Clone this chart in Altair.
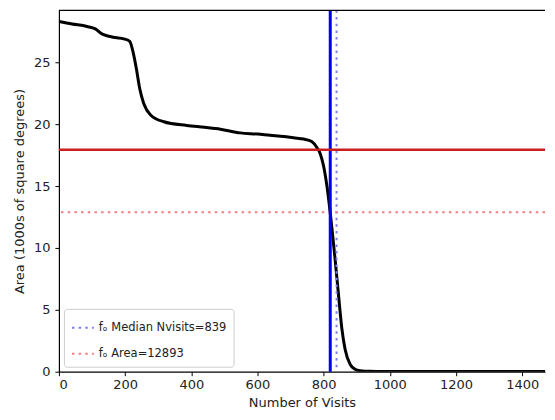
import altair as alt
import pandas as pd

# Curve: Area (1000s of sq deg) vs Number of Visits
visits = [0, 40, 85, 110, 130, 145, 170, 196, 214, 224, 234, 244, 256, 277, 317, 386, 440,
          488, 548, 600, 638, 680, 709, 740, 764, 780, 790, 800, 810, 825, 835, 845, 855,
          865, 880, 895, 910, 940, 1000, 1200, 1500]
area = [28.3, 28.1, 27.9, 27.7, 27.3, 27.15, 27.0, 26.9, 26.7, 25.85, 24.5, 22.9, 21.7,
        20.75, 20.2, 19.9, 19.75, 19.6, 19.3, 19.2, 19.1, 19.0, 18.9, 18.8, 18.6, 18.1,
        17.6, 16.6, 15.0, 11.6, 9.0, 6.2, 3.5, 1.8, 0.6, 0.2, 0.08, 0.03, 0.02, 0.02, 0.02]

median_nvisits = 839
area_fo = 12.893
nvisits_solid = 820
area_solid = 17.93

labels = ["fₒ Median Nvisits=839", "fₒ Area=12893"]
legend_colors = ["#7f7ff0", "#f08080"]

curve_df = pd.DataFrame({"visits": visits, "area": area})

W, H = 487, 362
xscale = alt.Scale(domain=[0, 1469], nice=False, zero=False)
yscale = alt.Scale(domain=[0, 29.2], nice=False)

xaxis = alt.Axis(values=[0, 200, 400, 600, 800, 1000, 1200, 1400], title="Number of Visits",
                 format="d", grid=False, tickSize=4, labelPadding=3, titlePadding=5)
yaxis = alt.Axis(values=[0, 5, 10, 15, 20, 25], title="Area (1000s of square degrees)",
                 format="d", grid=False, tickSize=4, labelPadding=5, titlePadding=7)

curve = alt.Chart(curve_df).mark_line(color="black", strokeWidth=3, interpolate="monotone",
                                      clip=True).encode(
    x=alt.X("visits:Q", scale=xscale, axis=xaxis),
    y=alt.Y("area:Q", scale=yscale, axis=yaxis),
)

# top frame edge (the right edge is cut off in the reference)
top_frame = alt.Chart(pd.DataFrame({"d": [0]})).mark_rule(
    color="black", strokeWidth=1.2).encode(
    x=alt.value(0), x2=alt.value(W), y=alt.value(0))

vsolid = alt.Chart(pd.DataFrame({"x": [nvisits_solid]})).mark_rule(
    color="#0000ee", strokeWidth=3).encode(x=alt.X("x:Q", scale=xscale))
hsolid = alt.Chart(pd.DataFrame({"y": [area_solid]})).mark_rule(
    color="#c81e1e", strokeWidth=2.5).encode(y=alt.Y("y:Q", scale=yscale))

color_scale = alt.Scale(domain=labels, range=legend_colors)
legend = alt.Legend(title=None, orient="bottom-left", offset=5, symbolType="stroke",
                    symbolSize=480, symbolStrokeWidth=2, symbolDash=[2.5, 4.2],
                    labelFontSize=11.5, rowPadding=8, padding=7, fillColor="white",
                    strokeColor="#cccccc", cornerRadius=3, labelColor="#222222")

vdot = alt.Chart(pd.DataFrame({"x": [median_nvisits], "label": [labels[0]]})).mark_rule(
    strokeWidth=2, strokeDash=[2.5, 4.2]).encode(
    x=alt.X("x:Q", scale=xscale),
    color=alt.Color("label:N", scale=color_scale, legend=legend))
hdot = alt.Chart(pd.DataFrame({"y": [area_fo], "label": [labels[1]]})).mark_rule(
    strokeWidth=2, strokeDash=[2.5, 4.2]).encode(
    y=alt.Y("y:Q", scale=yscale),
    color=alt.Color("label:N", scale=color_scale, legend=legend))

chart = alt.layer(curve, vdot, hdot, vsolid, hsolid, top_frame).properties(
    width=W, height=H,
    padding={"left": 5, "top": 0, "right": 0, "bottom": 0},
).configure_view(stroke=None).configure_axis(
    labelFont="DejaVu Sans", titleFont="DejaVu Sans", labelFontSize=13, titleFontSize=13,
    titleFontWeight="normal", labelColor="#222222", titleColor="#222222",
    domainColor="black", domainWidth=1.2, tickColor="black",
).configure_legend(labelFont="DejaVu Sans")

chart.save("out.html", embed_options={"renderer": "svg", "actions": False})
